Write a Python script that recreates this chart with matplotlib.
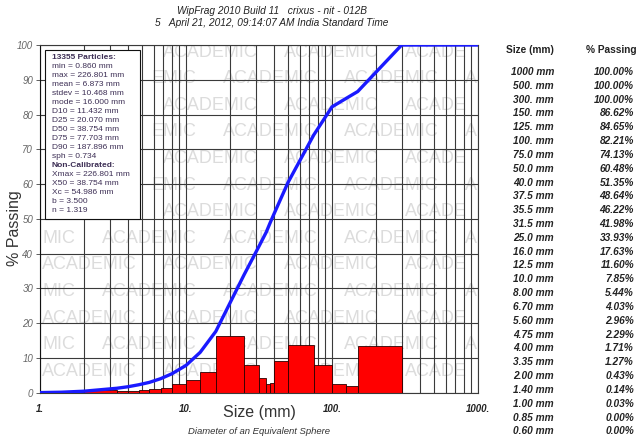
import matplotlib
matplotlib.use("Agg")
import matplotlib.pyplot as plt
from matplotlib.font_manager import FontProperties
import numpy as np

# Sieve sizes (mm) and cumulative percent passing, coarse to fine
size_labels = ["1000 mm", "500. mm", "300. mm", "150. mm", "125. mm", "100. mm",
               "75.0 mm", "50.0 mm", "40.0 mm", "37.5 mm", "35.5 mm", "31.5 mm",
               "25.0 mm", "16.0 mm", "12.5 mm", "10.0 mm", "8.00 mm", "6.70 mm",
               "5.60 mm", "4.75 mm", "4.00 mm", "3.35 mm", "2.00 mm", "1.40 mm",
               "1.00 mm", "0.85 mm", "0.60 mm"]
sizes = [1000, 500, 300, 150, 125, 100, 75.0, 50.0, 40.0, 37.5, 35.5, 31.5,
         25.0, 16.0, 12.5, 10.0, 8.00, 6.70, 5.60, 4.75, 4.00, 3.35, 2.00, 1.40,
         1.00, 0.85, 0.60]
passing = [100.00, 100.00, 100.00, 86.62, 84.65, 82.21, 74.13, 60.48, 51.35,
           48.64, 46.22, 41.98, 33.93, 17.63, 11.60, 7.85, 5.44, 4.03, 2.96,
           2.29, 1.71, 1.27, 0.43, 0.14, 0.03, 0.00, 0.00]

stats_lines = ["13355 Particles:", "min = 0.860 mm", "max = 226.801 mm",
               "mean = 6.873 mm", "stdev = 10.468 mm", "mode = 16.000 mm",
               "D10 = 11.432 mm", "D25 = 20.070 mm", "D50 = 38.754 mm",
               "D75 = 77.703 mm", "D90 = 187.896 mm", "sph = 0.734",
               "Non-Calibrated:", "Xmax = 226.801 mm", "X50 = 38.754 mm",
               "Xc = 54.986 mm", "b = 3.500", "n = 1.319"]
bold_lines = {"13355 Particles:", "Non-Calibrated:"}

x_ticks = [1, 10, 100, 1000]
x_tick_labels = ["1.", "10.", "100.", "1000."]
y_ticks = list(range(0, 101, 10))

title_1 = "WipFrag 2010 Build 11   crixus - nit - 012B"
title_2 = "5   April 21, 2012, 09:14:07 AM India Standard Time"
watermark = "ACADEMIC"

FONT = ["Liberation Sans", "DejaVu Sans"]
NARROW = ["Liberation Sans Narrow", "Liberation Sans", "DejaVu Sans"]
plt.rcParams["font.family"] = FONT

W, H = 637, 444
fig = plt.figure(figsize=(W / 100, H / 100), dpi=100)
fig.patch.set_facecolor("white")

# plot area in pixel terms
x0, x1 = 40, 478
y_top, y_bot = 45, 392.7
ax = fig.add_axes([x0 / W, 1 - y_bot / H, (x1 - x0) / W, (y_bot - y_top) / H])
ax.set_xscale("log")
ax.set_xlim(1, 1000)
ax.set_ylim(0, 100)

# per-class histogram: difference of the cumulative curve between sieves
s_asc = np.array(sizes[::-1])
p_asc = np.array(passing[::-1])
bin_heights = np.diff(p_asc)
ax.bar(s_asc[:-1], bin_heights, width=np.diff(s_asc), align="edge",
       color="#ff0000", edgecolor="#2a0000", linewidth=0.6, zorder=2)

# cumulative passing curve
ax.plot(s_asc, p_asc, color="#1a1aff", linewidth=2.4, zorder=5,
        solid_joinstyle="round")

# grid
ax.set_xticks(x_ticks)
ax.set_xticklabels(x_tick_labels)
ax.set_xticks([m * d for d in (1, 10, 100) for m in range(2, 10)], minor=True)
ax.set_xticklabels([], minor=True)
ax.set_yticks(y_ticks)
ax.grid(True, which="both", axis="x", color="#3a3a3a", linewidth=0.8)
ax.grid(True, which="major", axis="y", color="#3a3a3a", linewidth=0.8)
for gl in ax.get_xgridlines() + ax.get_ygridlines():
    gl.set_zorder(1.5)

for sp in ax.spines.values():
    sp.set_color("#3a3a3a")
    sp.set_linewidth(0.8)
ax.spines["left"].set_color("#111")

ax.tick_params(axis="x", which="both", length=0, pad=8)
ax.tick_params(axis="y", length=3, width=0.6, color="#444", pad=2)
for t in ax.get_xticklabels():
    t.set_fontsize(7)
    t.set_fontweight("bold")
    t.set_fontstyle("italic")
    t.set_color("#222")
for t in ax.get_yticklabels():
    t.set_fontsize(7)
    t.set_fontstyle("italic")
    t.set_color("#666")


def px_to_ax(px, py):
    return (px - x0) / (x1 - x0), (y_bot - py) / (y_bot - y_top)


# statistics box geometry (pixels)
bx0, by0, bx1, by1 = 45, 50, 140, 219

# background watermark text, tiled; words at the plot edges and behind the
# statistics box are trimmed to their visible letters
renderer = fig.canvas.get_renderer()
wm_prop = FontProperties(family=FONT, size=13)


def text_width(s):
    w, _, _ = renderer.get_text_width_height_descent(s, wm_prop, ismath=False)
    return w


word_w = text_width(watermark)
for k in range(13):
    py = 52 + 26.6 * k
    start = 42 if k % 2 == 0 else 102
    left_lim = bx1 + 1 if (py - 8 < by1 and py + 8 > by0) else x0
    for n in range(-1, 5):
        px = start + 121 * n
        end = px + word_w
        if end <= left_lim or px >= x1:
            continue
        if px >= left_lim and end <= x1:
            s, ha, anchor = watermark, "left", px
        elif px < left_lim:
            s = ""
            for i in range(len(watermark)):
                if text_width(watermark[i:]) <= end - left_lim:
                    s = watermark[i:]
                    break
            ha, anchor = "right", end
        else:
            s = ""
            for i in range(len(watermark), 0, -1):
                if text_width(watermark[:i]) <= x1 - px:
                    s = watermark[:i]
                    break
            ha, anchor = "left", px
        if not s:
            continue
        ax_x, ax_y = px_to_ax(anchor, py)
        ax.text(ax_x, ax_y, s, transform=ax.transAxes, fontproperties=wm_prop,
                color="#dcdcdc", ha=ha, va="center", zorder=1, clip_on=True)

# statistics box
bl, bb = px_to_ax(bx0, by1)
br, bt = px_to_ax(bx1, by0)
ax.add_patch(plt.Rectangle((bl, bb), br - bl, bt - bb, transform=ax.transAxes,
                           facecolor="white", edgecolor="#111", linewidth=0.8,
                           zorder=3))
for i, line in enumerate(stats_lines):
    tx, ty = px_to_ax(52, 57 + 9.05 * i)
    ax.text(tx, ty, line, transform=ax.transAxes, fontsize=6,
            fontweight="bold" if line in bold_lines else "normal",
            color="#3d2f55", ha="left", va="center", zorder=4)

# titles and axis labels
fig.text(272 / W, 1 - 11 / H, title_1, ha="center", va="center", fontsize=7.3,
         fontstyle="italic", color="#222", family=NARROW)
fig.text(272 / W, 1 - 23 / H, title_2, ha="center", va="center", fontsize=7.3,
         fontstyle="italic", color="#222", family=NARROW)
fig.text(14 / W, 1 - 228 / H, "% Passing", rotation=90, ha="center",
         va="center", fontsize=11.5, color="#333")
fig.text(259 / W, 1 - 412 / H, "Size (mm)", ha="center", va="center",
         fontsize=11.5, color="#333")
fig.text(259 / W, 1 - 431 / H, "Diameter of an Equivalent Sphere", ha="center",
         va="center", fontsize=6.8, fontstyle="italic", color="#333")

# sieve table
fig.text(530 / W, 1 - 50 / H, "Size (mm)", ha="center", va="center",
         fontsize=7.3, fontweight="bold", color="#222", family=NARROW)
fig.text(611 / W, 1 - 50 / H, "% Passing", ha="center", va="center",
         fontsize=7.3, fontweight="bold", color="#222", family=NARROW)
for i, (lab, val) in enumerate(zip(size_labels, passing)):
    ty = 1 - (72 + 13.82 * i) / H
    fig.text(554 / W, ty, lab, ha="right", va="center", fontsize=7.3,
             fontweight="bold", fontstyle="italic", color="#222", family=NARROW)
    fig.text(634 / W, ty, f"{val:.2f}%", ha="right", va="center", fontsize=7.3,
             fontweight="bold", fontstyle="italic", color="#222", family=NARROW)

fig.savefig("out.png", dpi=100, facecolor="white")
